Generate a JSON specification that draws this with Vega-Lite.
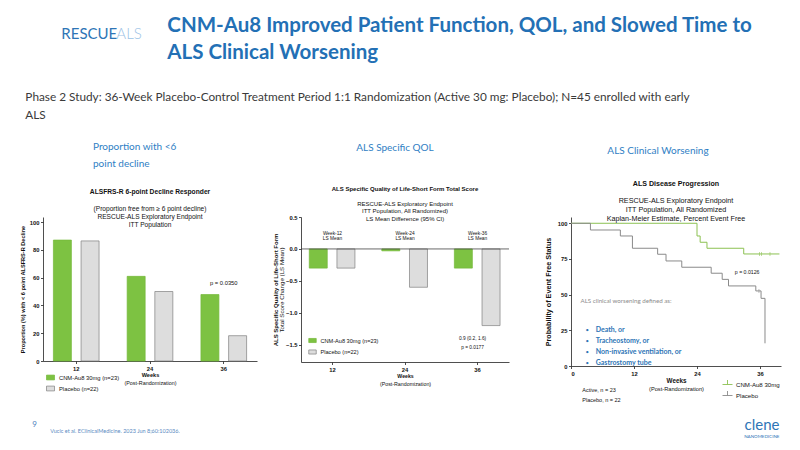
{
  "$schema": "https://vega.github.io/schema/vega-lite/v6.json",
  "background": "white",
  "padding": {"left": 20, "top": 16, "right": 0, "bottom": 0},
  "config": {
    "view": {"stroke": null},
    "font": "Liberation Sans",
    "axis": {"grid": false, "domainColor": "#222222", "tickColor": "#222222", "labelColor": "#111111", "titleColor": "#111111", "tickSize": 2.5, "labelPadding": 1.5, "labelFont": "Liberation Sans", "titleFont": "Liberation Sans", "labelFontWeight": "bold", "labelFontSize": 5.8, "domainWidth": 0.8, "tickWidth": 0.8},
    "legend": {"labelFont": "Liberation Sans", "labelColor": "#111111"},
    "text": {"font": "Liberation Sans", "color": "#111111"}
  },
  "title": {"text": "ALS", "anchor": "start", "dx": 96, "font": "Lato", "fontSize": 15, "fontWeight": 300, "color": "#9DC3E6", "offset": -26},
  "vconcat": [
    {
      "title": {"text": "RESCUE", "anchor": "start", "dx": 41, "font": "Lato", "fontSize": 15, "fontWeight": "normal", "color": "#2E75B6", "offset": -26},
      "vconcat": [
        {
          "title": {"text": "clene", "subtitle": "NANOMEDICINE", "orient": "bottom", "anchor": "end", "dx": -2, "font": "Lato", "fontSize": 15, "fontWeight": "normal", "color": "#2E75B6", "subtitleFont": "Lato", "subtitleFontSize": 4.5, "subtitleColor": "#2E75B6", "subtitlePadding": 1, "offset": -16},
          "vconcat": [
            {
              "title": {"text": "9", "orient": "bottom", "anchor": "start", "dx": 12, "font": "Lato", "fontSize": 8, "fontWeight": "normal", "color": "#4F81BD", "offset": -13},
              "vconcat": [
                {
                  "title": {"text": ["CNM-Au8 Improved Patient Function, QOL, and Slowed Time to", "ALS Clinical Worsening"], "anchor": "start", "dx": 147, "font": "Lato", "fontSize": 20.5, "fontWeight": "bold", "color": "#2370B5", "lineHeight": 27, "offset": 28},
                  "vconcat": [
                    {
                      "title": {"text": "Vucic et al. EClinicalMedicine. 2023 Jun 8;60:102036.", "orient": "bottom", "anchor": "start", "dx": 30, "font": "Lato", "fontSize": 5.5, "fontWeight": "normal", "color": "#5B8BC2", "offset": 25},
                      "vconcat": [
                        {
                          "title": {"text": ["Phase 2 Study: 36-Week Placebo-Control Treatment Period 1:1 Randomization (Active 30 mg: Placebo);   N=45 enrolled with early", "ALS"], "anchor": "start", "dx": 5, "font": "Lato", "fontSize": 11.8, "fontWeight": "normal", "color": "#3A3A3A", "lineHeight": 18, "offset": 20},
                          "spacing": 44,
                          "bounds": "flush",
                          "resolve": {"scale": {"color": "independent", "fill": "independent", "stroke": "independent"}, "legend": {"color": "independent", "fill": "independent", "stroke": "independent"}},
                          "hconcat": [
                            {
                              "width": 214,
                              "height": 144,
                              "title": {"text": ["Proportion with <6", "point decline"], "frame": "group", "anchor": "start", "dx": 50, "font": "Lato", "fontSize": 10, "fontWeight": "normal", "color": "#2F80C4", "lineHeight": 17, "offset": 20},
                              "resolve": {"axis": {"x": "independent", "y": "independent"}},
                              "layer": [
                                {
                                  "data": {"values": [
                                    {"week": "12", "group": "CNM-Au8 30mg (n=23)", "value": 87.0},
                                    {"week": "12", "group": "Placebo (n=22)", "value": 86.4},
                                    {"week": "24", "group": "CNM-Au8 30mg (n=23)", "value": 60.9},
                                    {"week": "24", "group": "Placebo (n=22)", "value": 50.0},
                                    {"week": "36", "group": "CNM-Au8 30mg (n=23)", "value": 47.8},
                                    {"week": "36", "group": "Placebo (n=22)", "value": 18.2}
                                  ]},
                                  "mark": {"type": "bar", "strokeWidth": 0.7},
                                  "encoding": {
                                    "x": {"field": "week", "type": "ordinal", "scale": {"domain": ["12", "24", "36"], "paddingInner": 0.381, "paddingOuter": 0.141}, "axis": {"orient": "bottom", "labelAngle": 0, "title": "Weeks", "titleFontSize": 5.6, "titleFontWeight": "bold", "titlePadding": 2}},
                                    "xOffset": {"field": "group", "type": "nominal", "scale": {"domain": ["CNM-Au8 30mg (n=23)", "Placebo (n=22)"], "paddingInner": 0.35}},
                                    "y": {"field": "value", "type": "quantitative", "scale": {"domain": [0, 103.6], "nice": false}, "axis": {"orient": "left", "values": [0, 20, 40, 60, 80, 100], "title": "Proportion (%) with < 6 point ALSFRS-R Decline", "titleFontSize": 5.6, "titleFontWeight": "bold", "titlePadding": 4}},
                                    "fill": {"field": "group", "type": "nominal", "scale": {"domain": ["CNM-Au8 30mg (n=23)", "Placebo (n=22)"], "range": ["#7DC242", "#DDDDDD"]}, "legend": {"orient": "none", "legendX": 3, "legendY": 156, "title": null, "labelFontSize": 5.8, "symbolType": "M-1,-0.6H1V0.6H-1Z", "symbolSize": 64, "rowPadding": 2, "labelOffset": 4, "symbolStrokeWidth": 0.7}},
                                    "stroke": {"field": "group", "type": "nominal", "scale": {"domain": ["CNM-Au8 30mg (n=23)", "Placebo (n=22)"], "range": ["#74B83A", "#7F7F7F"]}, "legend": {"orient": "none", "legendX": 3, "legendY": 156, "title": null, "labelFontSize": 5.8, "symbolType": "M-1,-0.6H1V0.6H-1Z", "symbolSize": 64, "rowPadding": 2, "labelOffset": 4, "symbolStrokeWidth": 0.7}}
                                  }
                                },
                                {
                                  "data": {"values": [{"week": "36", "t": "p =  0.0350"}]},
                                  "mark": {"type": "text", "fontSize": 5.8},
                                  "encoding": {
                                    "x": {"field": "week", "type": "ordinal", "axis": {"orient": "bottom", "title": "(Post-Randomization)", "labels": false, "ticks": false, "domain": false, "titleFontSize": 5.4, "titleFontWeight": "normal", "titlePadding": 19}},
                                    "y": {"datum": 56.1, "type": "quantitative", "axis": null},
                                    "text": {"field": "t"}
                                  }
                                },
                                {
                                  "data": {"values": [{"t": "ALSFRS-R 6-point Decline Responder"}]},
                                  "mark": {"type": "text", "fontSize": 6.7, "fontWeight": "bold"},
                                  "encoding": {
                                    "x": {"datum": "24", "type": "ordinal", "axis": null},
                                    "y": {"datum": 121.8, "type": "quantitative", "axis": null},
                                    "text": {"field": "t"}
                                  }
                                },
                                {
                                  "data": {"values": [{"t": "(Proportion free from ≥ 6 point decline)\nRESCUE-ALS Exploratory Endpoint\nITT Population"}]},
                                  "mark": {"type": "text", "fontSize": 6.6, "lineBreak": "\n", "lineHeight": 7.9},
                                  "encoding": {
                                    "x": {"datum": "24", "type": "ordinal", "axis": null},
                                    "y": {"datum": 109.5, "type": "quantitative", "axis": null},
                                    "text": {"field": "t"}
                                  }
                                }
                              ]
                            },
                            {
                              "width": 208,
                              "height": 145,
                              "title": {"text": "ALS Specific QOL", "frame": "group", "anchor": "middle", "dx": -10, "font": "Lato", "fontSize": 10, "fontWeight": "normal", "color": "#2F80C4", "offset": 33},
                              "resolve": {"axis": {"x": "independent", "y": "independent"}},
                              "layer": [
                                {
                                  "data": {"values": [
                                    {"week": "12", "group": "CNM-Au8 30mg (n=23)", "value": -0.30},
                                    {"week": "12", "group": "Placebo (n=22)", "value": -0.30},
                                    {"week": "24", "group": "CNM-Au8 30mg (n=23)", "value": -0.03},
                                    {"week": "24", "group": "Placebo (n=22)", "value": -0.60},
                                    {"week": "36", "group": "CNM-Au8 30mg (n=23)", "value": -0.30},
                                    {"week": "36", "group": "Placebo (n=22)", "value": -1.20}
                                  ]},
                                  "mark": {"type": "bar", "strokeWidth": 0.7},
                                  "encoding": {
                                    "x": {"field": "week", "type": "ordinal", "scale": {"domain": ["12", "24", "36"], "paddingInner": 0.361, "paddingOuter": 0.114}, "axis": {"orient": "bottom", "labelAngle": 0, "title": "Weeks", "titleFontSize": 5.2, "titleFontWeight": "bold", "titlePadding": 2}},
                                    "xOffset": {"field": "group", "type": "nominal", "scale": {"domain": ["CNM-Au8 30mg (n=23)", "Placebo (n=22)"], "paddingInner": 0.35}},
                                    "y": {"field": "value", "type": "quantitative", "scale": {"domain": [-1.77, 0.5], "nice": false}, "axis": {"orient": "left", "values": [0.5, 0, -0.5, -1, -1.5], "format": ".1f", "title": "ALS Specific Quality of Life-Short Form", "titleFontSize": 6, "titleFontWeight": "bold", "titlePadding": 7}},
                                    "fill": {"field": "group", "type": "nominal", "scale": {"domain": ["CNM-Au8 30mg (n=23)", "Placebo (n=22)"], "range": ["#7DC242", "#DDDDDD"]}, "legend": {"orient": "none", "legendX": 7, "legendY": 119, "title": null, "labelFontSize": 5.6, "symbolType": "M-1,-0.55H1V0.55H-1Z", "symbolSize": 56, "rowPadding": 2.5, "labelOffset": 3.5, "symbolStrokeWidth": 0.7}},
                                    "stroke": {"field": "group", "type": "nominal", "scale": {"domain": ["CNM-Au8 30mg (n=23)", "Placebo (n=22)"], "range": ["#74B83A", "#7F7F7F"]}, "legend": {"orient": "none", "legendX": 7, "legendY": 119, "title": null, "labelFontSize": 5.6, "symbolType": "M-1,-0.55H1V0.55H-1Z", "symbolSize": 56, "rowPadding": 2.5, "labelOffset": 3.5, "symbolStrokeWidth": 0.7}}
                                  }
                                },
                                {
                                  "data": {"values": [{"t": "zero"}]},
                                  "mark": {"type": "rule", "color": "#444444", "strokeWidth": 0.8},
                                  "encoding": {
                                    "y": {"datum": 0, "type": "quantitative", "axis": null}
                                  }
                                },
                                {
                                  "data": {"values": [
                                    {"week": "12", "t": "Week-12\nLS Mean"},
                                    {"week": "24", "t": "Week-24\nLS Mean"},
                                    {"week": "36", "t": "Week-36\nLS Mean"}
                                  ]},
                                  "mark": {"type": "text", "fontSize": 4.8, "lineBreak": "\n", "lineHeight": 5.2},
                                  "encoding": {
                                    "x": {"field": "week", "type": "ordinal", "axis": {"orient": "bottom", "title": "(Post-Randomization)", "labels": false, "ticks": false, "domain": false, "titleFontSize": 5.3, "titleFontWeight": "normal", "titlePadding": 19}},
                                    "y": {"datum": 0.232, "type": "quantitative", "axis": {"orient": "left", "title": "Total Score Change (LS Mean)", "labels": false, "ticks": false, "domain": false, "titleFontSize": 6.2, "titleFontWeight": "normal", "titlePadding": 17}},
                                    "text": {"field": "t"}
                                  }
                                },
                                {
                                  "data": {"values": [{"t": "0.9 (0.2, 1.6)\np =  0.0177"}]},
                                  "mark": {"type": "text", "fontSize": 4.8, "lineBreak": "\n", "lineHeight": 8.4, "dx": -5},
                                  "encoding": {
                                    "x": {"datum": "36", "type": "ordinal", "axis": null},
                                    "y": {"datum": -1.416, "type": "quantitative", "axis": null},
                                    "text": {"field": "t"}
                                  }
                                },
                                {
                                  "data": {"values": [{"t": "ALS Specific Quality of Life-Short Form Total Score"}]},
                                  "mark": {"type": "text", "fontSize": 6, "fontWeight": "bold"},
                                  "encoding": {
                                    "x": {"datum": "24", "type": "ordinal", "axis": null},
                                    "y": {"datum": 0.94, "type": "quantitative", "axis": null},
                                    "text": {"field": "t"}
                                  }
                                },
                                {
                                  "data": {"values": [{"t": "RESCUE-ALS Exploratory Endpoint\nITT Population, All Randomized)\nLS Mean Difference (95% CI)"}]},
                                  "mark": {"type": "text", "fontSize": 6, "lineBreak": "\n", "lineHeight": 7.6},
                                  "encoding": {
                                    "x": {"datum": "24", "type": "ordinal", "axis": null},
                                    "y": {"datum": 0.709, "type": "quantitative", "axis": null},
                                    "text": {"field": "t"}
                                  }
                                }
                              ]
                            },
                            {
                              "width": 228,
                              "height": 149,
                              "title": {"text": "ALS Clinical Worsening", "frame": "group", "anchor": "middle", "dx": -9, "font": "Lato", "fontSize": 10, "fontWeight": "normal", "color": "#2F80C4", "offset": 24},
                              "resolve": {"axis": {"x": "independent", "y": "independent"}},
                              "layer": [
                                {
                                  "data": {"values": [
                                    {"group": "CNM-Au8 30mg", "week": 0, "surv": 100},
                                    {"group": "CNM-Au8 30mg", "week": 24.0, "surv": 91.1},
                                    {"group": "CNM-Au8 30mg", "week": 24.6, "surv": 86.7},
                                    {"group": "CNM-Au8 30mg", "week": 25.9, "surv": 82.5},
                                    {"group": "CNM-Au8 30mg", "week": 32.9, "surv": 78.5},
                                    {"group": "CNM-Au8 30mg", "week": 39.7, "surv": 78.5},
                                    {"group": "Placebo", "week": 0, "surv": 100},
                                    {"group": "Placebo", "week": 3.7, "surv": 95.3},
                                    {"group": "Placebo", "week": 9.4, "surv": 91.1},
                                    {"group": "Placebo", "week": 11.7, "surv": 82.5},
                                    {"group": "Placebo", "week": 16.5, "surv": 78.3},
                                    {"group": "Placebo", "week": 18.1, "surv": 73.6},
                                    {"group": "Placebo", "week": 21.1, "surv": 69.2},
                                    {"group": "Placebo", "week": 26.7, "surv": 65.0},
                                    {"group": "Placebo", "week": 28.8, "surv": 60.7},
                                    {"group": "Placebo", "week": 30.0, "surv": 56.1},
                                    {"group": "Placebo", "week": 35.2, "surv": 52.6},
                                    {"group": "Placebo", "week": 36.2, "surv": 47.4},
                                    {"group": "Placebo", "week": 36.95, "surv": 15.9}
                                  ]},
                                  "mark": {"type": "line", "interpolate": "step-after", "strokeWidth": 1},
                                  "encoding": {
                                    "x": {"field": "week", "type": "quantitative", "scale": {"domain": [0, 40], "range": [18, 228], "nice": false}, "axis": {"orient": "bottom", "values": [0, 12, 24, 36], "title": "Weeks", "titleFontSize": 6.3, "titleFontWeight": "bold", "titlePadding": 2}},
                                    "y": {"field": "surv", "type": "quantitative", "scale": {"domain": [0, 104.4], "nice": false}, "axis": {"orient": "left", "offset": -18, "values": [0, 25, 50, 75, 100], "title": "Probability of Event Free Status", "titleFontSize": 7.2, "titleFontWeight": "bold", "titlePadding": 5}},
                                    "color": {"field": "group", "type": "nominal", "scale": {"domain": ["CNM-Au8 30mg", "Placebo"], "range": ["#8CC152", "#8A8A8A"]}, "legend": {"orient": "none", "legendX": 169, "legendY": 162, "title": null, "labelFontSize": 6.1, "symbolType": "M-1,0H1M0,0V-0.9", "symbolSize": 100, "rowPadding": 1, "labelOffset": 3, "symbolStrokeWidth": 0.9}}
                                  }
                                },
                                {
                                  "data": {"values": [
                                    {"group": "CNM-Au8 30mg", "week": 35.9, "surv": 78.5},
                                    {"group": "CNM-Au8 30mg", "week": 36.3, "surv": 78.5},
                                    {"group": "CNM-Au8 30mg", "week": 37.9, "surv": 78.5},
                                    {"group": "Placebo", "week": 35.8, "surv": 52.6}
                                  ]},
                                  "mark": {"type": "tick", "orient": "vertical", "size": 4, "thickness": 0.8},
                                  "encoding": {
                                    "x": {"field": "week", "type": "quantitative", "axis": null},
                                    "y": {"field": "surv", "type": "quantitative", "axis": null},
                                    "color": {"field": "group", "type": "nominal", "legend": null}
                                  }
                                },
                                {
                                  "data": {"values": [{"t": "p =  0.0126"}]},
                                  "mark": {"type": "text", "fontSize": 5.2, "align": "left"},
                                  "encoding": {
                                    "x": {"datum": 31.2, "type": "quantitative", "axis": {"orient": "bottom", "title": "(Post-Randomization)", "labels": false, "ticks": false, "domain": false, "titleFontSize": 5.7, "titleFontWeight": "normal", "titlePadding": 19}},
                                    "y": {"datum": 66.1, "type": "quantitative", "axis": null},
                                    "text": {"field": "t"}
                                  }
                                },
                                {
                                  "data": {"values": [{"t": "ALS clinical worsening defined as:"}]},
                                  "mark": {"type": "text", "font": "Lato", "fontSize": 6.2, "align": "left", "color": "#8C8C8C"},
                                  "encoding": {
                                    "x": {"datum": 1.8, "type": "quantitative", "axis": null},
                                    "y": {"datum": 45.5, "type": "quantitative", "axis": null},
                                    "text": {"field": "t"}
                                  }
                                },
                                {
                                  "data": {"values": [{"t": "•\n•\n•\n•"}]},
                                  "mark": {"type": "text", "font": "Lato", "fontSize": 6, "lineBreak": "\n", "lineHeight": 11.1, "color": "#2E75B6"},
                                  "encoding": {
                                    "x": {"datum": 3.1, "type": "quantitative", "axis": null},
                                    "y": {"datum": 25.4, "type": "quantitative", "axis": null},
                                    "text": {"field": "t"}
                                  }
                                },
                                {
                                  "data": {"values": [{"t": "Death, or\nTracheostomy, or\nNon-invasive ventilation, or\nGastrostomy tube"}]},
                                  "mark": {"type": "text", "font": "Lato", "fontSize": 7, "fontWeight": "bold", "lineBreak": "\n", "lineHeight": 11.1, "align": "left", "color": "#2E75B6"},
                                  "encoding": {
                                    "x": {"datum": 4.7, "type": "quantitative", "axis": null},
                                    "y": {"datum": 25.4, "type": "quantitative", "axis": null},
                                    "text": {"field": "t"}
                                  }
                                },
                                {
                                  "data": {"values": [{"t": "Active, n = 23\nPlacebo, n = 22"}]},
                                  "mark": {"type": "text", "fontSize": 5.5, "lineBreak": "\n", "lineHeight": 10, "align": "left"},
                                  "encoding": {
                                    "x": {"datum": 2.15, "type": "quantitative", "axis": null},
                                    "y": {"datum": -17.0, "type": "quantitative", "axis": null},
                                    "text": {"field": "t"}
                                  }
                                },
                                {
                                  "data": {"values": [{"t": "ALS Disease Progression"}]},
                                  "mark": {"type": "text", "fontSize": 7.1, "fontWeight": "bold"},
                                  "encoding": {
                                    "x": {"datum": 20, "type": "quantitative", "axis": null},
                                    "y": {"datum": 127.3, "type": "quantitative", "axis": null},
                                    "text": {"field": "t"}
                                  }
                                },
                                {
                                  "data": {"values": [{"t": "RESCUE-ALS Exploratory Endpoint\nITT Population, All Randomized\nKaplan-Meier Estimate, Percent Event Free"}]},
                                  "mark": {"type": "text", "fontSize": 7.2, "lineBreak": "\n", "lineHeight": 8.65},
                                  "encoding": {
                                    "x": {"datum": 20, "type": "quantitative", "axis": null},
                                    "y": {"datum": 115.3, "type": "quantitative", "axis": null},
                                    "text": {"field": "t"}
                                  }
                                }
                              ]
                            }
                          ]
                        }
                      ]
                    }
                  ]
                }
              ]
            }
          ]
        }
      ]
    }
  ]
}
